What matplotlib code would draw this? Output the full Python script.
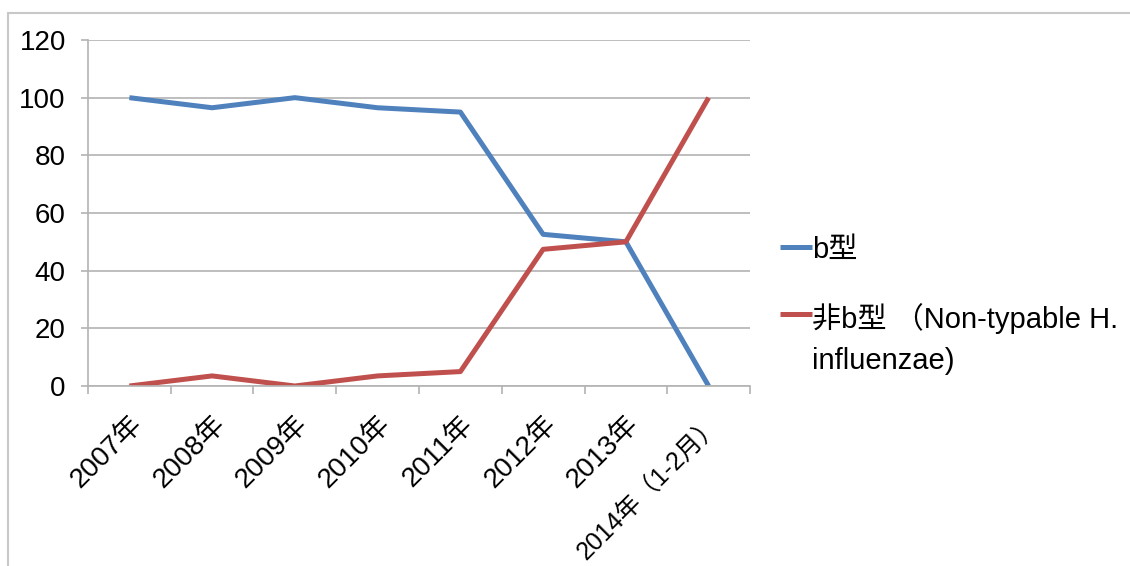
import matplotlib
matplotlib.use("Agg")
import matplotlib.pyplot as plt
from matplotlib.patches import Rectangle
from matplotlib.ticker import FixedLocator

categories = ["2007年", "2008年", "2009年", "2010年", "2011年", "2012年", "2013年", "2014年（1-2月）"]
type_b = [100, 96.5, 100, 96.5, 95, 52.6, 50, 0]
non_b = [0, 3.5, 0, 3.5, 5, 47.4, 50, 100]
series_names = ["b型", "非b型 （Non-typable H.\ninfluenzae)"]
series_colors = ['#4F81BD', '#C0504D']
yticks = [0, 20, 40, 60, 80, 100, 120]

plt.rcParams['font.family'] = ['Liberation Sans', 'Noto Sans CJK JP', 'DejaVu Sans']

fig = plt.figure(figsize=(11.3, 5.66), dpi=100)
fig.patches.append(Rectangle((8/1130, -0.1), 1.2, 1 - 13/566 + 0.1, transform=fig.transFigure,
                             fill=False, edgecolor='#c8c8c8', linewidth=1.5))
ax = fig.add_axes([88/1130, 1 - 386/566, (750 - 88)/1130, (386 - 40)/566])

x = list(range(len(categories)))
for vals, name, col in zip([type_b, non_b], series_names, series_colors):
    ax.plot(x, vals, color=col, linewidth=3.6, label=name, solid_capstyle='butt')

ax.set_xlim(-0.5, len(categories) - 0.5)
ax.set_ylim(0, 120)
ax.set_yticks(yticks)
ax.yaxis.grid(True, color='#b3b3b3', linewidth=1.2)
ax.set_axisbelow(True)
for s in ['top', 'right']:
    ax.spines[s].set_visible(False)
for s in ['left', 'bottom']:
    ax.spines[s].set_color('#b3b3b3')
    ax.spines[s].set_linewidth(1.2)
ax.tick_params(axis='y', length=5, color='#b3b3b3', width=1.2, labelsize=20, pad=11)

ax.set_xticks(x)
ax.set_xticklabels(categories, rotation=45, ha='right', rotation_mode='anchor', fontsize=20)
ax.get_xticklabels()[-1].set_fontsize(18)
ax.tick_params(axis='x', which='major', length=0, pad=18)
ax.xaxis.set_minor_locator(FixedLocator([i - 0.5 for i in range(len(categories) + 1)]))
ax.tick_params(axis='x', which='minor', length=6, color='#b3b3b3', width=1.2)

# manual legend (handle aligned with first text line, as in the reference)
leg_y = [0.402, 0.208]
for yy, name, col in zip(leg_y, series_names, series_colors):
    ax.plot([1.045, 1.094], [yy, yy], transform=ax.transAxes, color=col, linewidth=3.6,
            clip_on=False, solid_capstyle='butt')
    ax.text(1.094, yy + 0.033, name, transform=ax.transAxes, fontsize=21, va='top', ha='left',
            linespacing=1.6)

fig.savefig("out.png", dpi=100)
